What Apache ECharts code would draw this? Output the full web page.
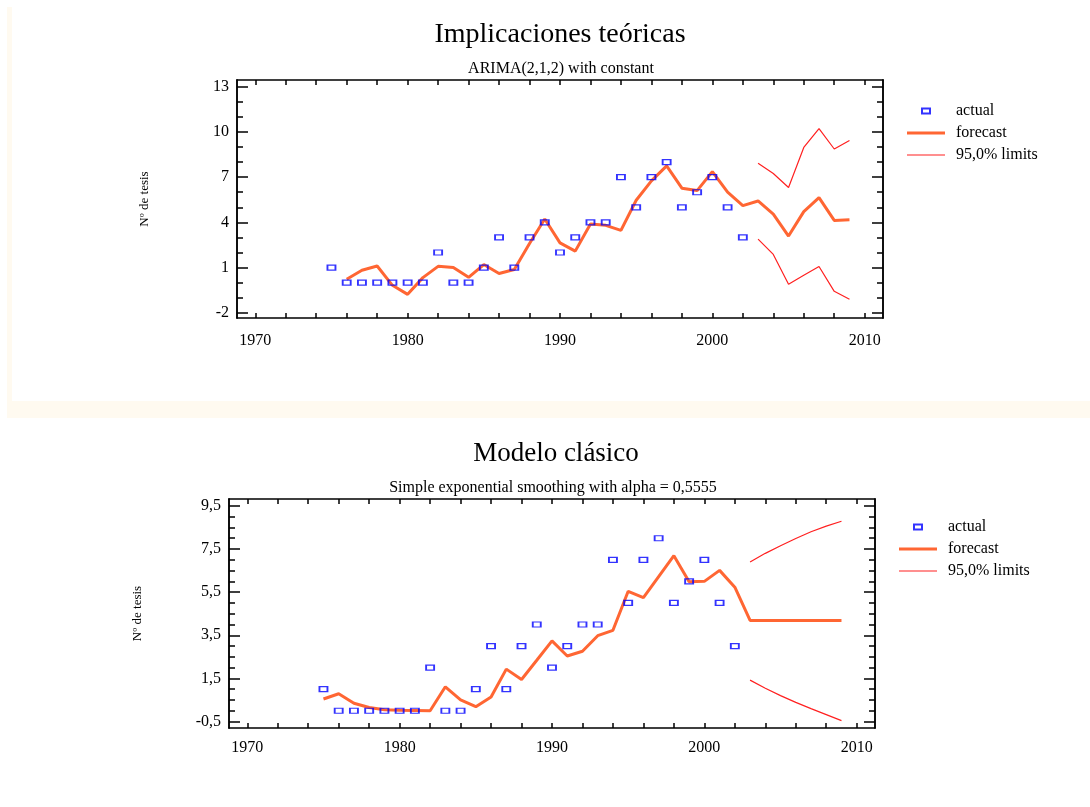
<!DOCTYPE html>
<html lang="es">
<head>
<meta charset="utf-8">
<title>Implicaciones teóricas / Modelo clásico</title>
<style>
    html, body { margin: 0; padding: 0; background: #fff; }
    #chart { width: 1090px; height: 807px; }
</style>
</head>
<body>
<div id="chart"></div>
<script src="https://cdn.jsdelivr.net/npm/echarts@6/dist/echarts.min.js"></script>
<script>
// observed values, 1975-2002
var actualYears = [1975,1976,1977,1978,1979,1980,1981,1982,1983,1984,1985,1986,1987,1988,
                   1989,1990,1991,1992,1993,1994,1995,1996,1997,1998,1999,2000,2001,2002];
var actual = [1,0,0,0,0,0,0,2,0,0,1,3,1,3,4,2,3,4,4,7,5,7,8,5,6,7,5,3];

// ARIMA(2,1,2) forecast, 1976-2009
var arimaYears = [1976,1977,1978,1979,1980,1981,1982,1983,1984,1985,1986,1987,1988,1989,1990,
                  1991,1992,1993,1994,1995,1996,1997,1998,1999,2000,2001,2002,
                  2003,2004,2005,2006,2007,2008,2009];
var arimaForecast = [0.22,0.82,1.1,-0.18,-0.78,0.33,1.08,1.0,0.35,1.2,0.6,0.87,2.6,4.22,2.64,
                     2.09,3.89,3.8,3.47,5.47,6.75,7.75,6.27,6.11,7.37,6.0,5.11,
                     5.42,4.55,3.09,4.71,5.64,4.13,4.17];

// limits, 2003-2009
var limitYears = [2003,2004,2005,2006,2007,2008,2009];
var arimaUpper = [7.93,7.24,6.31,8.97,10.22,8.87,9.44];
var arimaLower = [2.89,1.87,-0.11,0.49,1.07,-0.58,-1.11];

// exponential smoothing forecast, 1975-2009
var sesYears = [1975,1976,1977,1978,1979,1980,1981,1982,1983,1984,1985,1986,1987,1988,1989,1990,
                1991,1992,1993,1994,1995,1996,1997,1998,1999,2000,2001,2002,
                2003,2004,2005,2006,2007,2008,2009];
var sesForecast = [0.545,0.79,0.35,0.15,0.05,0.02,0.01,0.0,1.11,0.5,0.19,0.64,1.93,1.45,2.34,3.24,
                   2.54,2.76,3.48,3.73,5.54,5.25,6.22,7.19,5.98,6.0,6.51,5.73,
                   4.19,4.19,4.19,4.19,4.19,4.19,4.19];
var sesUpper = [6.9,7.3,7.65,7.99,8.3,8.56,8.79];
var sesLower = [1.42,1.04,0.7,0.39,0.10,-0.18,-0.46];

// axis ticks
var xLabels = [1970,1980,1990,2000,2010];
var xTicks = [1970,1972,1974,1976,1978,1980,1982,1984,1986,1988,1990,1992,1994,1996,1998,
              2000,2002,2004,2006,2008,2010];
var topLabels = [-2,1,4,7,10,13];
var topMinor = [-1,0,2,3,5,6,8,9,11,12];
var botLabels = [-0.5,1.5,3.5,5.5,7.5,9.5];
var botMinor = [0,0.5,1,2,2.5,3,4,4.5,5,6,6.5,7,8,8.5,9];

var FONT = "'Liberation Serif', 'Times New Roman', serif";
var ORANGE = '#ff6633';
var RED = '#ff2020';
var BLUE = '#0000ff';

function pairs(xs, ys) {
    return xs.map(function (x, i) { return [x, ys[i]]; });
}

var lineBlack = { color: '#000', width: 1.5 };

function xAxesFor(g, margin) {
    var base = {
        gridIndex: g, type: 'value', min: 1968.8, max: 2011.2,
        axisLine: { show: true, onZero: false, lineStyle: lineBlack },
        axisTick: { show: true, inside: true, length: 5, customValues: xTicks, lineStyle: lineBlack },
        splitLine: { show: false }
    };
    return [
        Object.assign({}, base, {
            position: 'bottom',
            axisLabel: { customValues: xLabels, margin: margin, color: '#000', fontFamily: FONT, fontSize: 16,
                         formatter: function (v) { return String(v); } }
        }),
        Object.assign({}, base, { position: 'top', axisLabel: { show: false } })
    ];
}

function yAxesFor(g, min, max, labels, minor, fmt) {
    var base = {
        gridIndex: g, type: 'value', min: min, max: max,
        axisLine: { show: true, onZero: false, lineStyle: lineBlack },
        splitLine: { show: false }
    };
    function tick(vals, len) {
        return { show: true, inside: true, length: len, customValues: vals, lineStyle: lineBlack };
    }
    return [
        Object.assign({}, base, {
            position: 'left',
            name: 'Nº de tesis', nameLocation: 'middle', nameGap: g === 0 ? 86 : 85,
            nameTextStyle: { color: '#000', fontFamily: FONT, fontSize: 13 },
            axisTick: tick(labels, 11),
            axisLabel: { customValues: labels, margin: 8, color: '#000', fontFamily: FONT, fontSize: 16, formatter: fmt }
        }),
        Object.assign({}, base, { position: 'left', axisTick: tick(minor, 6), axisLabel: { show: false } }),
        Object.assign({}, base, { position: 'right', axisTick: tick(labels, 11), axisLabel: { show: false } }),
        Object.assign({}, base, { position: 'right', axisTick: tick(minor, 6), axisLabel: { show: false } })
    ];
}

function commaFmt(v) { return String(v).replace('.', ','); }

// legend icons sized inside the 38x14 item box
var actualIcon = 'path://M0,0M38,14M15,4.5h8v5h-8z';
var forecastIcon = 'path://M0,0M38,14M0,5.5h38v3h-38z';
var limitIcon = 'path://M0,0M38,14M0,6.4h38v1.2h-38z';

function legendFor(g, left, top) {
    var sfx = g === 0 ? '' : ' ';
    return {
        orient: 'vertical', left: left, top: top, padding: 0,
        itemWidth: 38, itemHeight: 14, itemGap: 6,
        textStyle: { color: '#000', fontFamily: FONT, fontSize: 16, padding: [0, 0, 0, 6] },
        data: [
            { name: 'actual' + sfx, icon: actualIcon },
            { name: 'forecast' + sfx, icon: forecastIcon, itemStyle: { color: ORANGE, borderWidth: 0 } },
            { name: '95,0% limits' + sfx, icon: limitIcon, itemStyle: { color: RED, borderWidth: 0 } }
        ]
    };
}

function seriesFor(g, fYears, fVals, up, low) {
    var sfx = g === 0 ? '' : ' ';
    var xi = g * 2, yi = g * 4;
    return [
        {
            name: 'forecast' + sfx, type: 'line', xAxisIndex: xi, yAxisIndex: yi,
            data: pairs(fYears, fVals), symbol: 'none', showSymbol: false,
            lineStyle: { color: ORANGE, width: 3 }, itemStyle: { color: ORANGE }, z: 3
        },
        {
            name: '95,0% limits' + sfx, type: 'line', xAxisIndex: xi, yAxisIndex: yi,
            data: pairs(limitYears, up), symbol: 'none', showSymbol: false,
            lineStyle: { color: RED, width: 1.2 }, itemStyle: { color: RED }
        },
        {
            name: '95,0% limits' + sfx, type: 'line', xAxisIndex: xi, yAxisIndex: yi,
            data: pairs(limitYears, low), symbol: 'none', showSymbol: false,
            lineStyle: { color: RED, width: 1.2 }, itemStyle: { color: RED }
        },
        {
            name: 'actual' + sfx, type: 'scatter', xAxisIndex: xi, yAxisIndex: yi,
            data: pairs(actualYears, actual), symbol: 'rect', symbolSize: [8, 5],
            itemStyle: { color: 'rgba(0,0,0,0)', borderColor: BLUE, borderWidth: 1.5 }, z: 4
        }
    ];
}

var chart = echarts.init(document.getElementById('chart'), null, { renderer: 'canvas' });

var option = {
    animation: false,
    backgroundColor: '#fff',
    textStyle: { fontFamily: FONT },
    graphic: [
        { type: 'rect', z: -10, silent: true, shape: { x: 7, y: 7, width: 1083, height: 411 }, style: { fill: '#fffaf0' } },
        { type: 'rect', z: -9, silent: true, shape: { x: 12, y: 7, width: 1078, height: 394 }, style: { fill: '#fff' } }
    ],
    title: [
        { text: 'Implicaciones teóricas', left: 560, top: 21, textAlign: 'center', padding: 0,
          textStyle: { color: '#000', fontFamily: FONT, fontSize: 28, fontWeight: 'normal' } },
        { text: 'ARIMA(2,1,2) with constant', left: 561, top: 61, textAlign: 'center', padding: 0,
          textStyle: { color: '#000', fontFamily: FONT, fontSize: 16, fontWeight: 'normal' } },
        { text: 'Modelo clásico', left: 556, top: 440, textAlign: 'center', padding: 0,
          textStyle: { color: '#000', fontFamily: FONT, fontSize: 27, fontWeight: 'normal' } },
        { text: 'Simple exponential smoothing with alpha = 0,5555', left: 553, top: 480, textAlign: 'center', padding: 0,
          textStyle: { color: '#000', fontFamily: FONT, fontSize: 16, fontWeight: 'normal' } }
    ],
    legend: [legendFor(0, 906, 103), legendFor(1, 898, 519)],
    grid: [
        { left: 237, top: 80, width: 646, height: 238 },
        { left: 229, top: 499, width: 646, height: 229 }
    ],
    xAxis: xAxesFor(0, 15).concat(xAxesFor(1, 12)),
    yAxis: yAxesFor(0, -2.35, 13.45, topLabels, topMinor, null)
        .concat(yAxesFor(1, -0.8, 9.82, botLabels, botMinor, commaFmt)),
    series: seriesFor(0, arimaYears, arimaForecast, arimaUpper, arimaLower)
        .concat(seriesFor(1, sesYears, sesForecast, sesUpper, sesLower))
};

chart.setOption(option);
</script>
</body>
</html>
